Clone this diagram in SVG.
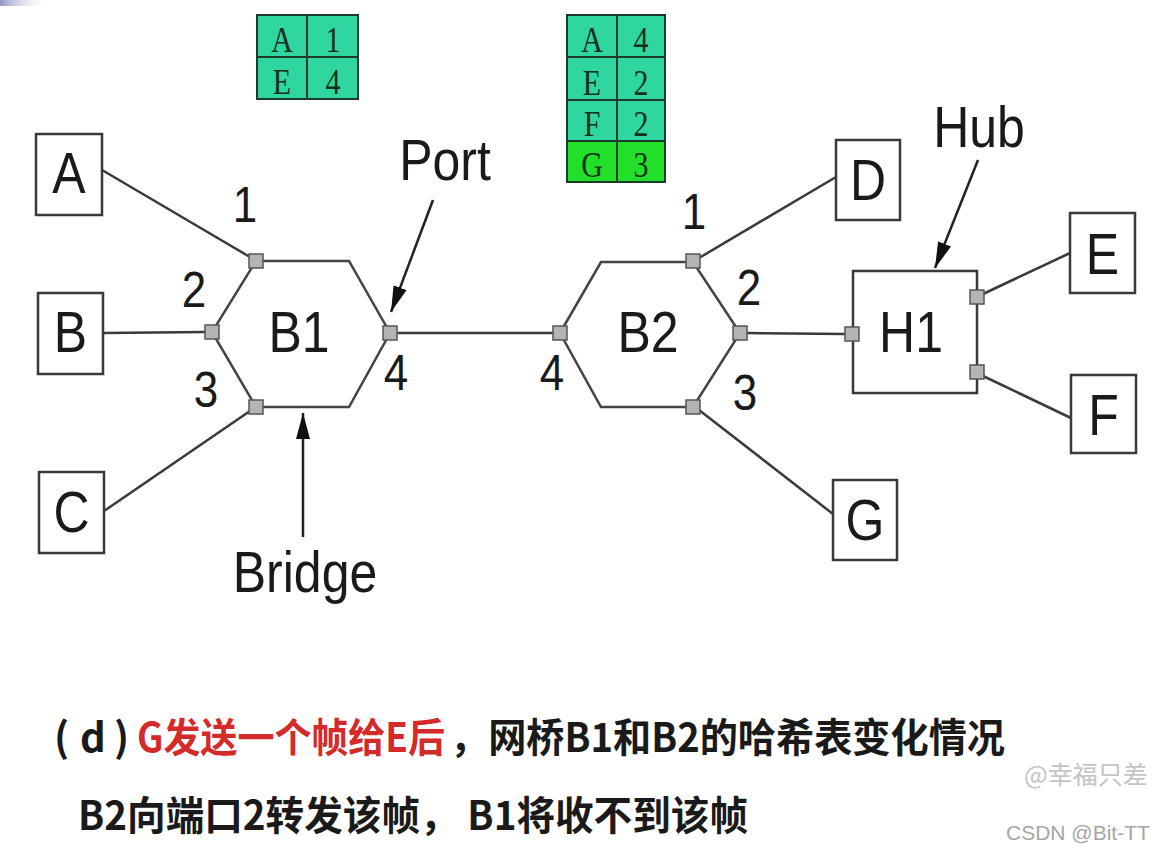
<svg xmlns="http://www.w3.org/2000/svg" width="1159" height="854" viewBox="0 0 1159 854">
<defs>
<style>
.ln{stroke:#3a3a3a;stroke-width:2.5;fill:none}
.box{fill:#fff;stroke:#3a3a3a;stroke-width:2.5}
.hex{fill:#fff;stroke:#444;stroke-width:2.5}
.port{fill:#b4b4b4;stroke:#555;stroke-width:1.5}
.lbl{font-family:"Liberation Sans",Arial,sans-serif;fill:#1a1a1a;text-anchor:middle}
.big{font-size:50px}
.num{font-size:44px}
.cell{stroke:#1d3b2b;stroke-width:2}
.t1{fill:#30d6a0}
.t2{fill:#22e02a}
.ct{font-family:"Liberation Serif","Times New Roman",serif;font-size:30px;fill:#163020;text-anchor:middle}
.cap{font-family:"Noto Sans CJK SC","Noto Sans",sans-serif;font-weight:bold;font-size:40px}
</style>
<marker id="ah2" markerWidth="26" markerHeight="14" refX="26" refY="7" orient="auto" markerUnits="userSpaceOnUse" viewBox="0 0 26 14">
<path d="M0,0 L26,7 L0,14 z" fill="#111"/>
</marker>
<linearGradient id="corner" x1="0" y1="0" x2="1" y2="0">
<stop offset="0" stop-color="#7a78b8" stop-opacity="0.8"/>
<stop offset="1" stop-color="#ffffff" stop-opacity="0"/>
</linearGradient>
</defs>
<rect width="1159" height="854" fill="#fff"/>
<rect x="0" y="0" width="50" height="6" fill="url(#corner)"/>

<!-- connectors -->
<g id="connectors">
<line class="ln" x1="102" y1="170" x2="250" y2="257"/>
<line class="ln" x1="103" y1="333" x2="206" y2="332"/>
<line class="ln" x1="104" y1="511" x2="250" y2="411"/>
<line class="ln" x1="396" y1="333" x2="554" y2="333"/>
<line class="ln" x1="699" y1="258" x2="836" y2="177"/>
<line class="ln" x1="699" y1="410" x2="833" y2="514"/>
<line class="ln" x1="746" y1="333" x2="846" y2="334"/>
<line class="ln" x1="983" y1="294" x2="1070" y2="253"/>
<line class="ln" x1="983" y1="376" x2="1071" y2="418"/>
<line stroke="#222" stroke-width="2.5" x1="433" y1="200" x2="391" y2="312" marker-end="url(#ah2)"/>
<line stroke="#222" stroke-width="2.5" x1="978" y1="160" x2="935" y2="268" marker-end="url(#ah2)"/>
<line stroke="#222" stroke-width="2.5" x1="303" y1="537" x2="303" y2="413" marker-end="url(#ah2)"/>
</g>

<!-- end nodes -->
<g id="node-A"><rect class="box" x="36" y="134" width="66" height="81"/><text class="lbl big" transform="translate(69,193) scale(1,1.15)">A</text></g>
<g id="node-B"><rect class="box" x="38" y="293" width="65" height="81"/><text class="lbl big" transform="translate(70.5,352) scale(1,1.15)">B</text></g>
<g id="node-C"><rect class="box" x="39" y="472" width="65" height="81"/><text class="lbl big" transform="translate(71.5,532) scale(1,1.15)">C</text></g>
<g id="node-D"><rect class="box" x="836" y="140" width="64" height="80"/><text class="lbl big" transform="translate(868,200) scale(1,1.15)">D</text></g>
<g id="node-G"><rect class="box" x="833" y="480" width="64" height="80"/><text class="lbl big" transform="translate(865,540) scale(1,1.15)">G</text></g>
<g id="node-E"><rect class="box" x="1070" y="213" width="65" height="80"/><text class="lbl big" transform="translate(1102.5,274) scale(1,1.15)">E</text></g>
<g id="node-F"><rect class="box" x="1071" y="375" width="65" height="78"/><text class="lbl big" transform="translate(1103.5,435) scale(1,1.15)">F</text></g>

<!-- bridge B1 -->
<g id="node-B1">
<polygon class="hex" points="256,261 349,261 390,333 349,407 256,407 212,332"/>
<rect class="port" x="249" y="254" width="14" height="14"/>
<rect class="port" x="205" y="325" width="14" height="14"/>
<rect class="port" x="249" y="400" width="14" height="14"/>
<rect class="port" x="383" y="326" width="14" height="14"/>
<text class="lbl big" transform="translate(299,352) scale(1,1.15)">B1</text>
<text class="lbl num" transform="translate(245,222) scale(1,1.15)">1</text>
<text class="lbl num" transform="translate(194,307) scale(1,1.15)">2</text>
<text class="lbl num" transform="translate(206,407) scale(1,1.15)">3</text>
<text class="lbl num" transform="translate(396,390) scale(1,1.15)">4</text>
</g>

<!-- bridge B2 -->
<g id="node-B2">
<polygon class="hex" points="560,333 601,262 693,262 740,333 693,407 601,407"/>
<rect class="port" x="553" y="326" width="14" height="14"/>
<rect class="port" x="686" y="254" width="14" height="14"/>
<rect class="port" x="733" y="326" width="14" height="14"/>
<rect class="port" x="686" y="400" width="14" height="14"/>
<text class="lbl big" transform="translate(648,352) scale(1,1.15)">B2</text>
<text class="lbl num" transform="translate(694,229) scale(1,1.15)">1</text>
<text class="lbl num" transform="translate(749,305) scale(1,1.15)">2</text>
<text class="lbl num" transform="translate(745,410) scale(1,1.15)">3</text>
<text class="lbl num" transform="translate(552,390) scale(1,1.15)">4</text>
</g>

<!-- hub H1 -->
<g id="node-H1">
<rect class="box" x="853" y="271" width="124" height="122"/>
<rect class="port" x="845" y="327" width="14" height="14"/>
<rect class="port" x="970" y="290" width="14" height="14"/>
<rect class="port" x="970" y="365" width="14" height="14"/>
<text class="lbl big" transform="translate(911,352) scale(1,1.15)">H1</text>
</g>

<!-- annotations -->
<g id="label-Port"><text class="lbl big" transform="translate(445,180) scale(1,1.15)">Port</text></g>
<g id="label-Hub"><text class="lbl big" transform="translate(979,147) scale(1,1.15)">Hub</text></g>
<g id="label-Bridge"><text class="lbl big" transform="translate(305,592) scale(1,1.15)">Bridge</text></g>

<!-- table B1 -->
<g id="table-B1">
<rect class="cell t1" x="257" y="15" width="50" height="42"/>
<rect class="cell t1" x="307" y="15" width="51" height="42"/>
<rect class="cell t1" x="257" y="57" width="50" height="42"/>
<rect class="cell t1" x="307" y="57" width="51" height="42"/>
<text class="ct" transform="translate(282,52) scale(1,1.2)">A</text>
<text class="ct" transform="translate(333,52) scale(1,1.2)">1</text>
<text class="ct" transform="translate(282,94) scale(1,1.2)">E</text>
<text class="ct" transform="translate(333,94) scale(1,1.2)">4</text>
</g>

<!-- table B2 -->
<g id="table-B2">
<rect class="cell t1" x="567" y="15" width="50" height="42"/>
<rect class="cell t1" x="617" y="15" width="48" height="42"/>
<rect class="cell t1" x="567" y="57" width="50" height="43"/>
<rect class="cell t1" x="617" y="57" width="48" height="43"/>
<rect class="cell t1" x="567" y="100" width="50" height="41"/>
<rect class="cell t1" x="617" y="100" width="48" height="41"/>
<rect class="cell t2" x="567" y="141" width="50" height="41"/>
<rect class="cell t2" x="617" y="141" width="48" height="41"/>
<text class="ct" transform="translate(592,52) scale(1,1.2)">A</text>
<text class="ct" transform="translate(641,52) scale(1,1.2)">4</text>
<text class="ct" transform="translate(592,95) scale(1,1.2)">E</text>
<text class="ct" transform="translate(641,95) scale(1,1.2)">2</text>
<text class="ct" transform="translate(592,136) scale(1,1.2)">F</text>
<text class="ct" transform="translate(641,136) scale(1,1.2)">2</text>
<text class="ct" transform="translate(592,177) scale(1,1.2)">G</text>
<text class="ct" transform="translate(641,177) scale(1,1.2)">3</text>
</g>

<!-- caption -->
<g id="caption">
<text class="cap" y="752" fill="#1a1a1a"><tspan x="54">(</tspan><tspan x="80">d</tspan><tspan x="114">)</tspan></text>
<text class="cap" x="137" y="752" fill="#d42a2a" textLength="308" lengthAdjust="spacingAndGlyphs">G发送一个帧给E后</text>
<text class="cap" x="450" y="752" fill="#1a1a1a" textLength="555" lengthAdjust="spacingAndGlyphs">，网桥B1和B2的哈希表变化情况</text>
<text class="cap" x="78" y="830" fill="#1a1a1a" textLength="670" lengthAdjust="spacingAndGlyphs">B2向端口2转发该帧， B1将收不到该帧</text>
</g>

<!-- watermark -->
<g id="watermark">
<text x="1024" y="784" font-family="Noto Sans CJK SC,Noto Sans,sans-serif" font-size="25" fill="#c4c4c4">@幸福只差</text>
<text x="1006" y="840" font-family="Liberation Sans,Arial,sans-serif" font-size="21" fill="#a6a6a6">CSDN @Bit-TT</text>
</g>
</svg>
